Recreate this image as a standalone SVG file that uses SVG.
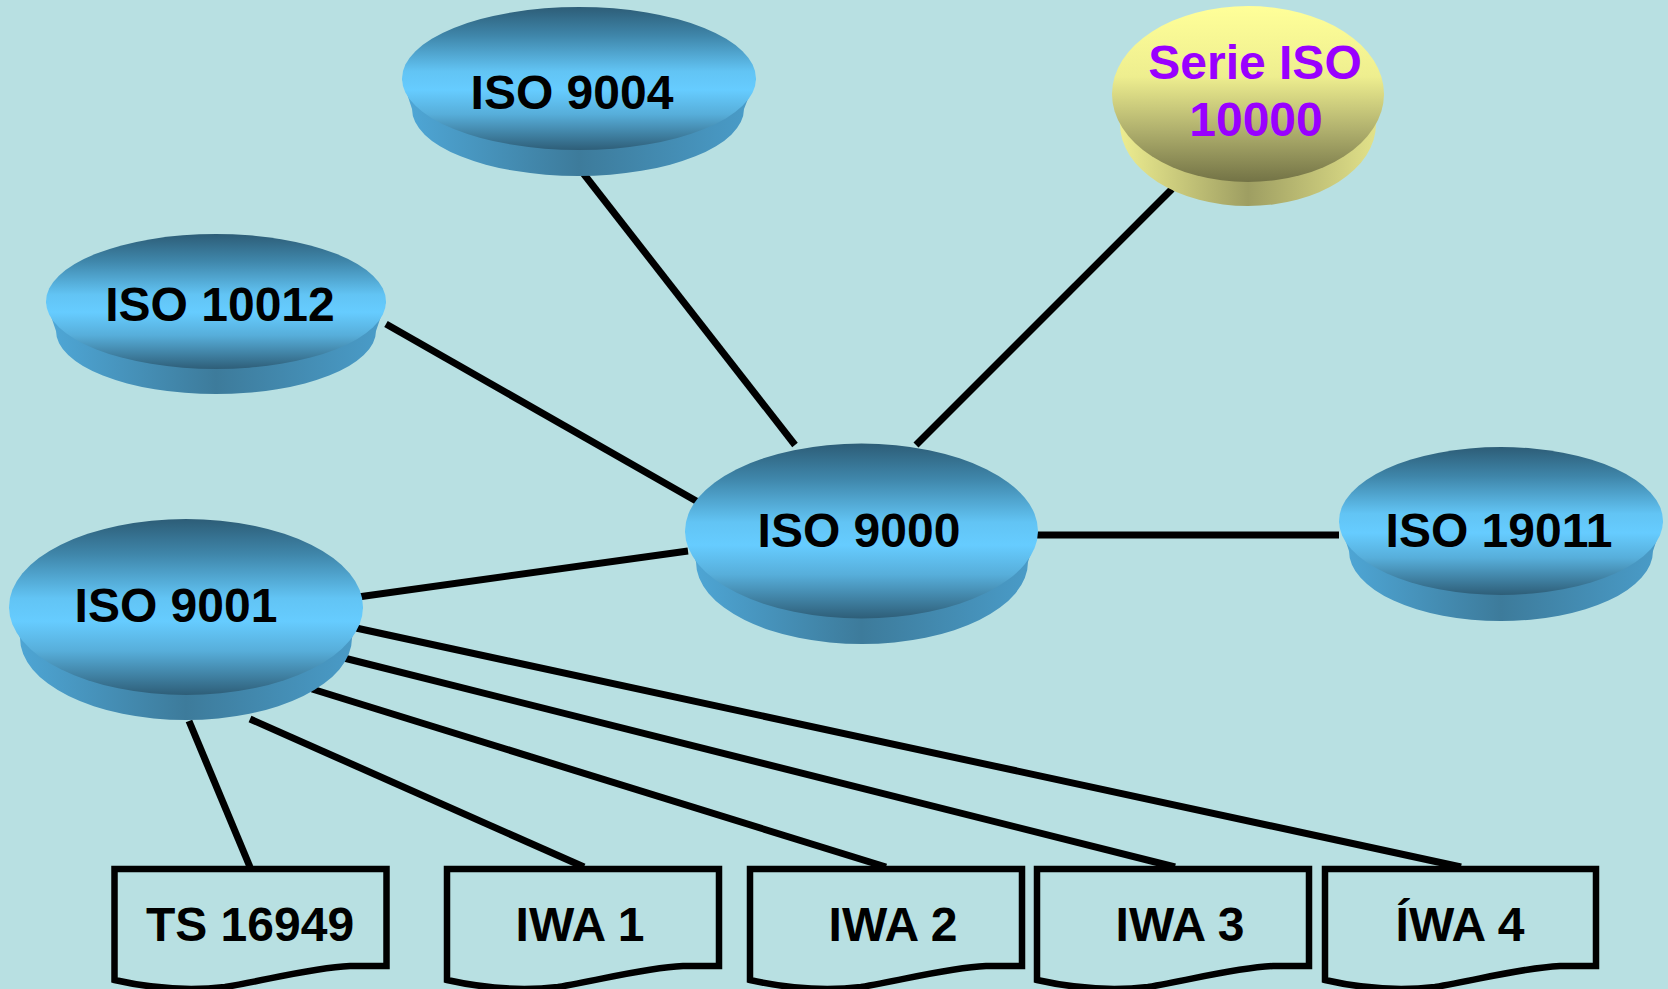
<svg xmlns="http://www.w3.org/2000/svg" width="1668" height="989" viewBox="0 0 1668 989">
<defs>
<linearGradient id="topBlue" x1="0" y1="0" x2="0" y2="1">
<stop offset="0" stop-color="#2D5D77"/>
<stop offset="0.2" stop-color="#3F86AA"/>
<stop offset="0.45" stop-color="#62C4F4"/>
<stop offset="0.58" stop-color="#66CCFF"/>
<stop offset="0.75" stop-color="#57AEDA"/>
<stop offset="1" stop-color="#2E5E78"/>
</linearGradient>
<linearGradient id="sideBlue" x1="0" y1="0" x2="1" y2="0">
<stop offset="0" stop-color="#4FA8D8"/>
<stop offset="0.5" stop-color="#3D7B9B"/>
<stop offset="1" stop-color="#4A9DCA"/>
</linearGradient>
<linearGradient id="topYellow" x1="0" y1="0" x2="0" y2="1">
<stop offset="0" stop-color="#FFFF99"/>
<stop offset="0.4" stop-color="#EEEE8F"/>
<stop offset="0.7" stop-color="#B1B16E"/>
<stop offset="1" stop-color="#737346"/>
</linearGradient>
<linearGradient id="sideYellow" x1="0" y1="0" x2="1" y2="0">
<stop offset="0" stop-color="#F2F293"/>
<stop offset="0.5" stop-color="#9E9E62"/>
<stop offset="1" stop-color="#E6E68C"/>
</linearGradient>
</defs>
<style>
.lbl{font-family:"Liberation Sans",Arial,sans-serif;font-weight:bold;font-size:48px;fill:#000;text-anchor:middle}
.pur{fill:#9900FF}
.conn line{stroke:#000;stroke-width:7}
.doc{fill:#B8E0E2;stroke:#000;stroke-width:6.5}
.sideB{fill:url(#sideBlue)}
.topB{fill:url(#topBlue)}
.sideY{fill:url(#sideYellow)}
.topY{fill:url(#topYellow)}
</style>
<rect x="0" y="0" width="1668" height="989" fill="#B8E0E2"/>

<g id="connectors" class="conn">
<line x1="583" y1="173" x2="795" y2="445"/>
<line x1="1172" y1="189" x2="916" y2="445"/>
<line x1="386" y1="324" x2="705" y2="506"/>
<line x1="358" y1="597" x2="688" y2="551"/>
<line x1="1037" y1="535" x2="1339" y2="535"/>
<line x1="356" y1="628" x2="1461" y2="867"/>
<line x1="340" y1="657" x2="1175" y2="867"/>
<line x1="312" y1="689" x2="886" y2="867"/>
<line x1="250" y1="719" x2="584" y2="867"/>
<line x1="189" y1="721" x2="250" y2="867"/>
</g>

<g id="iso9004">
<path class="sideB" d="M402 78.5 L412 109 A166 67 0 0 0 744 109 L756 78.5 Z"/>
<ellipse class="topB" cx="579" cy="78.5" rx="177" ry="71.5"/>
<text class="lbl" x="572" y="109">ISO 9004</text>
</g>

<g id="serie10000">
<path class="sideY" d="M1112 94 L1120 124 A128 82 0 0 0 1376 124 L1384 94 Z"/>
<ellipse class="topY" cx="1248" cy="94" rx="136" ry="88"/>
<text class="lbl pur" x="1255" y="79">Serie ISO</text>
<text class="lbl pur" x="1256" y="136">10000</text>
</g>

<g id="iso10012">
<path class="sideB" d="M46 301.5 L56 331 A160 63 0 0 0 376 331 L386 301.5 Z"/>
<ellipse class="topB" cx="216" cy="301.5" rx="170" ry="67.5"/>
<text class="lbl" x="220" y="321">ISO 10012</text>
</g>

<g id="iso9000">
<path class="sideB" d="M685 531 L696 562 A166 82 0 0 0 1028 562 L1038 531 Z"/>
<ellipse class="topB" cx="861.5" cy="531" rx="176.5" ry="87.5"/>
<text class="lbl" x="859" y="547">ISO 9000</text>
</g>

<g id="iso19011">
<path class="sideB" d="M1339 521 L1349 551 A152 70 0 0 0 1653 551 L1663 521 Z"/>
<ellipse class="topB" cx="1501" cy="521" rx="162" ry="74"/>
<text class="lbl" x="1499" y="547">ISO 19011</text>
</g>

<g id="iso9001">
<path class="sideB" d="M9 607 L20 638 A166 82 0 0 0 352 638 L363 607 Z"/>
<ellipse class="topB" cx="186" cy="607" rx="177" ry="88"/>
<text class="lbl" x="176" y="622">ISO 9001</text>
</g>

<g id="ts16949">
<path class="doc" d="M114.5 869 H386.5 V966 L350 966 C310 968 268 980 225 987 C190 991 150 988 114.5 980 Z"/>
<text class="lbl" x="250" y="941">TS 16949</text>
</g>

<g id="iwa1">
<path class="doc" d="M447 869 H719 V966 L683 966 C643 968 601 980 558 987 C523 991 483 988 447 980 Z"/>
<text class="lbl" x="580" y="941">IWA 1</text>
</g>

<g id="iwa2">
<path class="doc" d="M750 869 H1022 V966 L986 966 C946 968 904 980 861 987 C826 991 786 988 750 980 Z"/>
<text class="lbl" x="893" y="941">IWA 2</text>
</g>

<g id="iwa3">
<path class="doc" d="M1037 869 H1309 V966 L1273 966 C1233 968 1191 980 1148 987 C1113 991 1073 988 1037 980 Z"/>
<text class="lbl" x="1180" y="941">IWA 3</text>
</g>

<g id="iwa4">
<path class="doc" d="M1325 869 H1596 V966 L1560 966 C1520 968 1478 980 1435 987 C1400 991 1360 988 1325 980 Z"/>
<text class="lbl" x="1460" y="941">ÍWA 4</text>
</g>
</svg>
